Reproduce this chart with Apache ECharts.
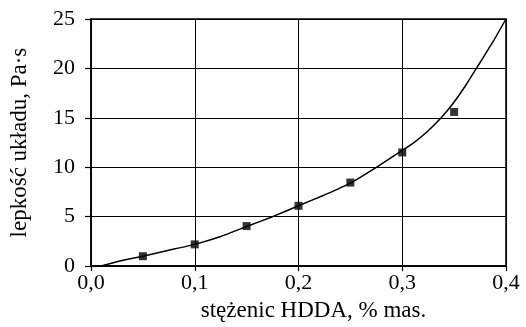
<!DOCTYPE html>
<html>
<head>
<meta charset="utf-8">
<script src="https://cdn.jsdelivr.net/npm/echarts@6/dist/echarts.min.js"></script>
<style>html,body{margin:0;padding:0;background:#fff}#c{width:526px;height:327px}</style>
</head>
<body>
<div id="c"></div>
<script>
// measured points: concentration (% mas.) and viscosity (Pa·s)
const pointX = [0.05, 0.10, 0.15, 0.20, 0.25, 0.30, 0.35];
const pointY = [1.0, 2.2, 4.05, 6.1, 8.45, 11.5, 15.6];
// trend curve
const curveX = [0.009, 0.025, 0.05, 0.075, 0.10, 0.125, 0.15, 0.175, 0.20, 0.225, 0.25, 0.275, 0.30, 0.3125, 0.325, 0.3375, 0.35, 0.3625, 0.375, 0.3875, 0.40];
const curveY = [0, 0.45, 1.0, 1.6, 2.2, 3.0, 4.0, 5.0, 6.1, 7.2, 8.4, 10.0, 11.7, 12.6, 13.7, 15.0, 16.6, 18.5, 20.6, 22.7, 25.0];
const xTicks = [0, 0.1, 0.2, 0.3, 0.4];
const yTicks = [0, 5, 10, 15, 20, 25];

const font = '"Liberation Serif", "Times New Roman", serif';
const chart = echarts.init(document.getElementById('c'), null, {renderer: 'canvas'});
chart.setOption({
  backgroundColor: '#fff',
  animation: false,
  grid: {left: 87, right: 20, top: 19, bottom: 59, show: true, borderColor: '#000', borderWidth: 1.5, backgroundColor: 'transparent'},
  xAxis: {
    type: 'value', min: xTicks[0], max: xTicks[xTicks.length - 1], interval: 0.1,
    name: 'stężenic HDDA, % mas.', nameLocation: 'middle', nameGap: 29,
    nameTextStyle: {fontFamily: font, fontSize: 23, color: '#000', padding: [0, 0, 0, 30]},
    axisLine: {lineStyle: {color: '#000', width: 1.5}},
    axisTick: {show: true, inside: false, length: 5, lineStyle: {color: '#000', width: 1.2}},
    axisLabel: {fontFamily: font, fontSize: 22, color: '#000', margin: 6,
      formatter: v => v.toFixed(1).replace('.', ',')},
    splitLine: {show: true, lineStyle: {color: '#000', width: 1}}
  },
  yAxis: {
    type: 'value', min: yTicks[0], max: yTicks[yTicks.length - 1], interval: 5,
    name: 'lepkość układu, Pa·s', nameLocation: 'middle', nameGap: 60,
    nameTextStyle: {fontFamily: font, fontSize: 23, color: '#000'},
    axisLine: {lineStyle: {color: '#000', width: 1.5}},
    axisTick: {show: true, inside: false, length: 6, lineStyle: {color: '#000', width: 1.2}},
    axisLabel: {fontFamily: font, fontSize: 22, color: '#000', margin: 16},
    splitLine: {show: true, lineStyle: {color: '#000', width: 1}}
  },
  series: [
    {
      type: 'line', data: curveX.map((x, i) => [x, curveY[i]]), smooth: 0.15, showSymbol: false,
      lineStyle: {color: '#000', width: 1.5}, z: 3
    },
    {
      type: 'scatter', data: pointX.map((x, i) => [x, pointY[i]]), symbol: 'rect', symbolSize: 8,
      itemStyle: {color: '#000'}, z: 4
    }
  ]
});
</script>
</body>
</html>
